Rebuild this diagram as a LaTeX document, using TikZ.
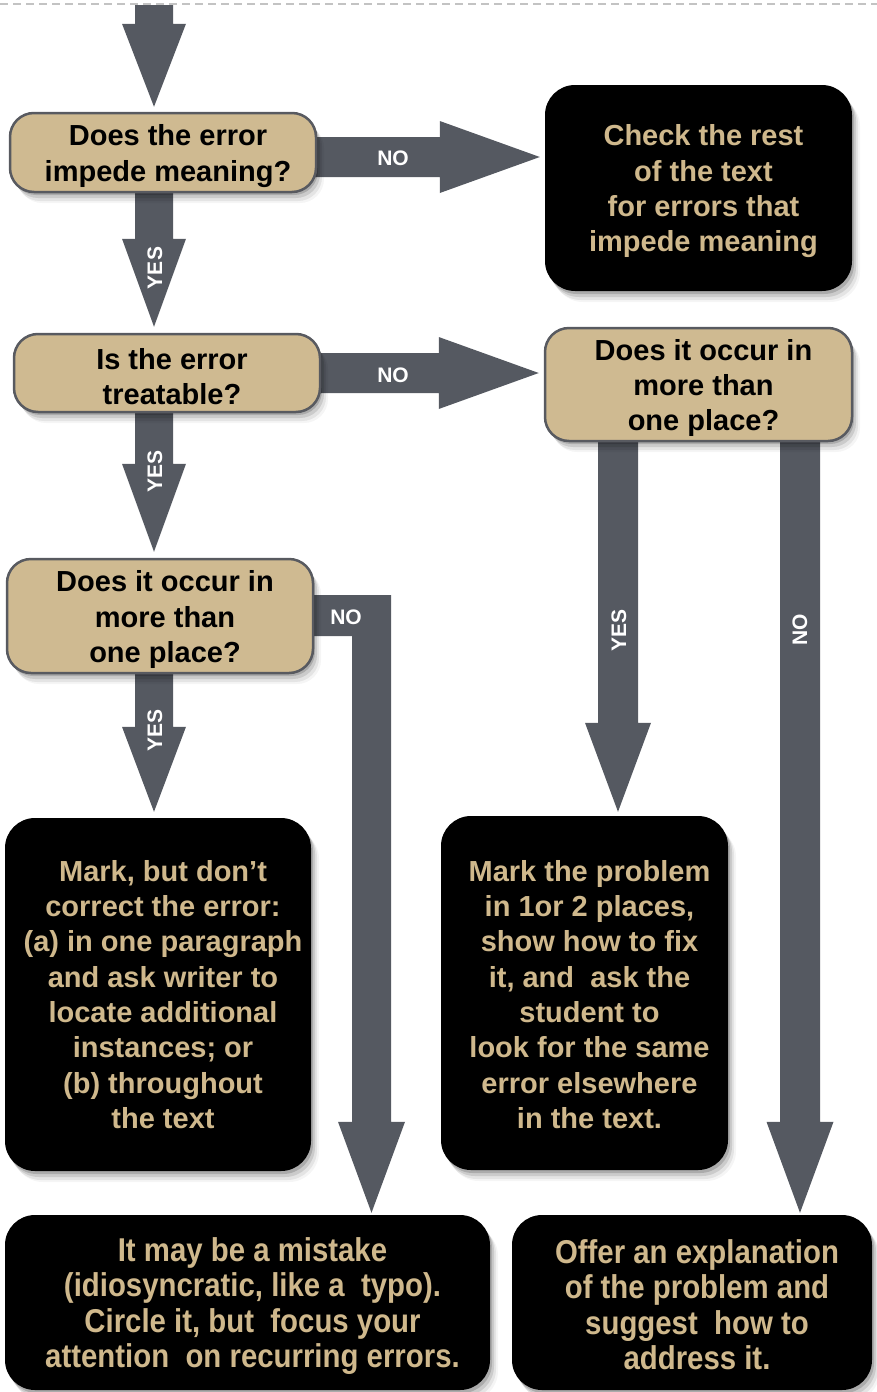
\documentclass[tikz,border=0pt]{standalone}
\usepackage{fontspec}
\setmainfont{Liberation Sans}
\newfontfamily\condfont{Liberation Sans}[FakeStretch=0.89]
\usetikzlibrary{shadows,calc}
\definecolor{tanfill}{RGB}{207,186,145}
\definecolor{tantext}{RGB}{207,184,140}
\definecolor{arrgray}{RGB}{85,89,97}
\definecolor{bordgray}{RGB}{88,90,96}
\definecolor{dashgray}{RGB}{195,195,195}
\pgfdeclarelayer{bg}
\pgfsetlayers{bg,main}
\tikzset{
 softshadow/.style={
   drop shadow={shadow xshift=2pt,shadow yshift=-3pt,opacity=0.16,fill=black},
   drop shadow={shadow xshift=4pt,shadow yshift=-6pt,opacity=0.11,fill=black},
   drop shadow={shadow xshift=6pt,shadow yshift=-9pt,opacity=0.07,fill=black},
   drop shadow={shadow xshift=8pt,shadow yshift=-11pt,opacity=0.04,fill=black}},
 question/.style={softshadow, draw=bordgray, line width=2.5pt, fill=tanfill,
   rounded corners=24pt, inner sep=0pt},
 action/.style={softshadow, fill=black, rounded corners=30pt, inner sep=0pt},
 qtext/.style={align=center, inner sep=0pt, text=black,
   font=\fontsize{29}{35.3}\selectfont\bfseries},
 atext/.style={qtext, text=tantext},
 ftext/.style={atext, font=\condfont\fontsize{33}{35.5}\selectfont\bfseries},
 lbl/.style={text=white, inner sep=0pt, font=\fontsize{21}{21}\selectfont\bfseries},
 arr/.style={fill=arrgray},
 tshift/.style={shift={(5,3.5)}},
}
% down block arrow: #1 x(px), #2 from, #3 to, #4 gap, #5 head length, #6 shaft half, #7 head half
\newcommand\downarr[7]{%
 \fill[arr] let \p1=(#2), \p2=(#3) in
  (#1pt-#6pt,\y1+2pt) -- (#1pt+#6pt,\y1+2pt) -- (#1pt+#6pt,\y2+#4pt+#5pt) --
  (#1pt+#7pt,\y2+#4pt+#5pt) -- (#1pt,\y2+#4pt) -- (#1pt-#7pt,\y2+#4pt+#5pt) --
  (#1pt-#6pt,\y2+#4pt+#5pt) -- cycle;}
% right block arrow: #1 y(px), #2 from, #3 to
\newcommand\rightarr[3]{%
 \fill[arr] let \p1=(#2), \p2=(#3) in
  (\x1-3pt,-#1pt+20pt) -- (\x2-105pt,-#1pt+20pt) -- (\x2-105pt,-#1pt+36pt) --
  (\x2-5pt,-#1pt) -- (\x2-105pt,-#1pt-36pt) -- (\x2-105pt,-#1pt-20pt) --
  (\x1-3pt,-#1pt-20pt) -- cycle;}
\begin{document}
\begin{tikzpicture}[x=1pt,y=-1pt]
\useasboundingbox (0,0) rectangle (877,1392);
\draw[dashgray, line width=2pt, dash pattern=on 8pt off 5pt] (0,4) -- (877,4);
\coordinate (start) at (154,5);

\node[question, minimum width=306pt, minimum height=79pt] (q1) at (163,152.5) {};
\node[action, minimum width=307pt, minimum height=206pt] (a1) at (698.5,188) {};
\node[question, minimum width=306pt, minimum height=78pt] (q2) at (167,373) {};
\node[question, minimum width=307pt, minimum height=113pt] (q3) at (698.5,384.5) {};
\node[question, minimum width=306pt, minimum height=114pt] (q4) at (160,616) {};
\node[action, minimum width=306pt, minimum height=353pt] (a2) at (158,994.5) {};
\node[action, minimum width=287pt, minimum height=354pt] (a3) at (584.5,993) {};
\node[action, minimum width=485pt, minimum height=175pt] (f1) at (247.5,1302.5) {};
\node[action, minimum width=360pt, minimum height=175pt] (f2) at (692,1302.5) {};

\node[qtext] (q1t) at ([tshift]q1.center) {Does the error\\impede meaning?};
\node[atext] (a1t) at ([tshift]a1.center) {Check the rest\\of the text\\for errors that\\impede meaning};
\node[qtext] (q2t) at ([tshift]q2.center) {Is the error\\treatable?};
\node[qtext] (q3t) at ([tshift]q3.center) {Does it occur in\\more than\\one place?};
\node[qtext] (q4t) at ([tshift]q4.center) {Does it occur in\\more than\\one place?};
\node[atext] (a2t) at ([shift={(5,0)}]a2.center)
  {Mark, but don’t\\correct the error:\\(a) in one paragraph\\and ask writer to\\locate additional\\instances; or\\(b) throughout\\the text};
\node[atext] (a3t) at ([shift={(5,1.5)}]a3.center)
  {Mark the problem\\in 1or 2 places,\\show how to fix\\it, and\ \ ask the\\student to\\look for the same\\error elsewhere\\in the text.};
\node[ftext] (f1t) at ([tshift]f1.center)
  {It may be a mistake\\(idiosyncratic, like a\ \ typo).\\Circle it, but\ \ focus your\\attention\ \ on recurring errors.};
\node[ftext] (f2t) at ([shift={(5,2)}]f2.center)
  {Offer an explanation\\of the problem and\\suggest\ \ how to\\address it.};

\begin{pgfonlayer}{bg}
 \fill[arr] let \p1=(start), \p2=(q1.north) in
  (154pt-19pt,\y1) -- (154pt+19pt,\y1) -- (154pt+19pt,\y2+5pt+83pt) --
  (154pt+32pt,\y2+5pt+83pt) -- (154pt,\y2+5pt) -- (154pt-32pt,\y2+5pt+83pt) --
  (154pt-19pt,\y2+5pt+83pt) -- cycle;
 \downarr{154}{q1.south}{q2.north}{6}{88}{19}{32}
 \downarr{154}{q2.south}{q4.north}{6}{88}{19}{32}
 \downarr{154}{q4.south}{a2.north}{6}{85}{19}{32}
 \downarr{618}{q3.south}{a3.north}{4}{89}{20}{33}
 \downarr{800}{q3.south}{f2.north}{2}{91}{20}{33.5}
 \rightarr{157}{q1.east}{a1.west}
 \rightarr{373}{q2.east}{q3.west}
 \fill[arr] let \p1=(q4.east), \p2=(f1.north) in
  (\x1-3pt,-595pt) -- (391pt,-595pt) -- (391pt,\y2+2pt+91pt) --
  (405pt,\y2+2pt+91pt) -- (371.5pt,\y2+2pt) -- (338pt,\y2+2pt+91pt) --
  (352pt,\y2+2pt+91pt) -- (352pt,-636pt) -- (\x1-3pt,-636pt) -- cycle;
\end{pgfonlayer}

\node[lbl] (no1) at (393,158) {NO};
\node[lbl] (no2) at (393,375) {NO};
\node[lbl] (no3) at (346,617) {NO};
\node[lbl, rotate=90] (no4) at (800,630) {NO};
\node[lbl, rotate=90] (yes1) at (155,268) {YES};
\node[lbl, rotate=90] (yes2) at (155,471) {YES};
\node[lbl, rotate=90] (yes3) at (155,730) {YES};
\node[lbl, rotate=90] (yes4) at (619,630) {YES};
\end{tikzpicture}
\end{document}
